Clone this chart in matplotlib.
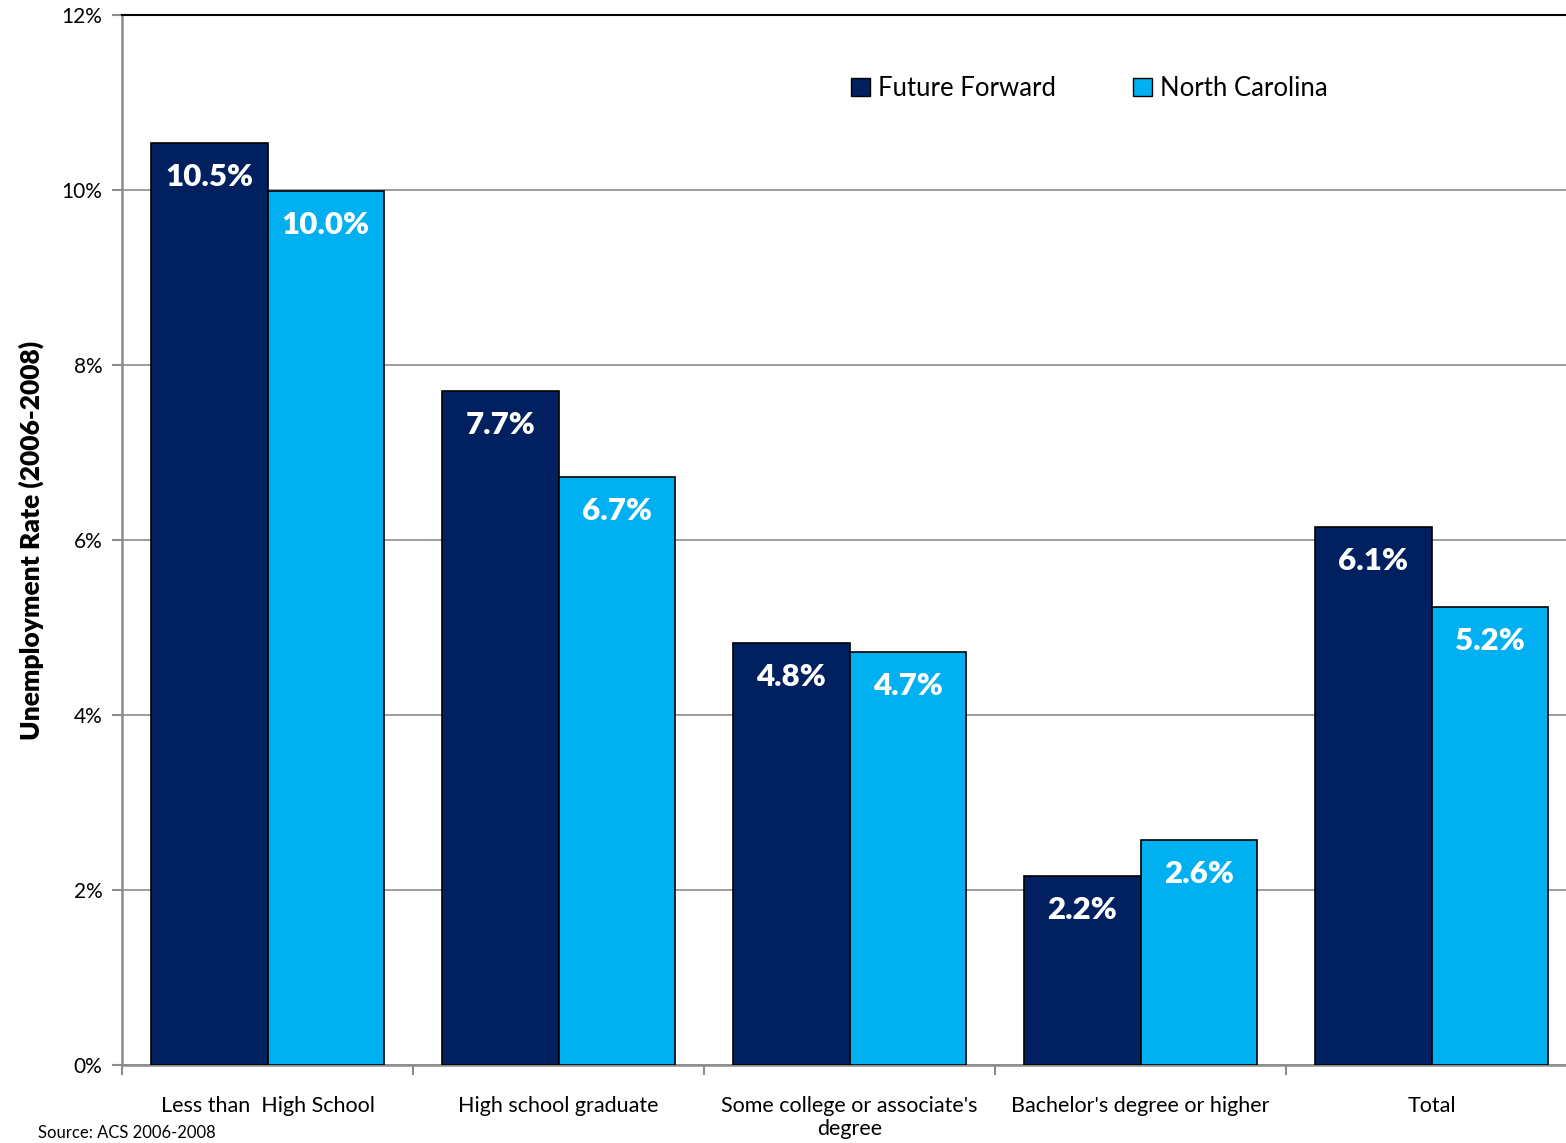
import numpy as np
import matplotlib.pyplot as plt
from matplotlib.patches import Patch

categories = ['Less than  High School', 'High school graduate',
              "Some college or associate's\ndegree", "Bachelor's degree or higher", 'Total']
future_forward = [10.54, 7.70, 4.82, 2.16, 6.15]
north_carolina = [9.99, 6.72, 4.72, 2.57, 5.23]
ff_labels = ['10.5%', '7.7%', '4.8%', '2.2%', '6.1%']
nc_labels = ['10.0%', '6.7%', '4.7%', '2.6%', '5.2%']
yticks = [0, 2, 4, 6, 8, 10, 12]

dark = '#002060'
light = '#00B0F0'
plt.rcParams['font.family'] = ['Lato', 'DejaVu Sans']

fig = plt.figure(figsize=(15.66, 11.43), dpi=100)
ax = fig.add_axes([122/1566, 78/1143, 1455/1566, 1050/1143])

x = np.arange(len(categories))
w = 0.4
b1 = ax.bar(x - w/2, future_forward, w, color=dark, edgecolor='black', linewidth=1.2, zorder=3)
b2 = ax.bar(x + w/2, north_carolina, w, color=light, edgecolor='black', linewidth=1.2, zorder=3)

for bars, labs in ((b1, ff_labels), (b2, nc_labels)):
    for r, lab in zip(bars, labs):
        ax.text(r.get_x() + r.get_width()/2, r.get_height() - 0.39, lab,
                ha='center', va='center', color='white', fontsize=22.5,
                fontweight='heavy', zorder=4)

ax.set_xlim(-0.5, 4.5)
ax.set_ylim(0, 12)
ax.set_yticks(yticks)
ax.set_yticklabels([f'{t}%' for t in yticks], fontsize=15)
ax.yaxis.grid(True, color='#8c8c8c', linewidth=1.2, zorder=0)
ax.set_axisbelow(True)

ax.set_xticks(np.arange(-0.5, 5, 1))
ax.set_xticklabels([])
ax.set_xticks(x, minor=True)
ax.set_xticklabels(categories, minor=True, fontsize=15.5)
ax.tick_params(axis='x', which='minor', length=0, pad=22)
ax.tick_params(axis='x', which='major', length=7, color='#8c8c8c', width=1.5)
ax.tick_params(axis='y', length=7, color='#8c8c8c', width=1.5, pad=7)

for s in ('left', 'bottom'):
    ax.spines[s].set_color('#8c8c8c')
    ax.spines[s].set_linewidth(1.8)
ax.spines['top'].set_color('black')
ax.spines['top'].set_linewidth(1.5)
ax.spines['right'].set_visible(False)

ax.set_ylabel('Unemployment Rate (2006-2008)', fontsize=19, fontweight='heavy', labelpad=13)

handles = [Patch(facecolor=dark, edgecolor='black', label='Future Forward'),
           Patch(facecolor=light, edgecolor='black', label='North Carolina')]
ax.legend(handles=handles, loc='upper left', bbox_to_anchor=(0.485, 0.964), ncol=2,
          frameon=False, fontsize=18.5, handlelength=0.75, handleheight=0.75,
          handletextpad=0.3, columnspacing=3.0)

fig.text(38/1566, 2/1143, 'Source: ACS 2006-2008', fontsize=12, va='bottom', ha='left')

fig.savefig('out.png', dpi=100)
